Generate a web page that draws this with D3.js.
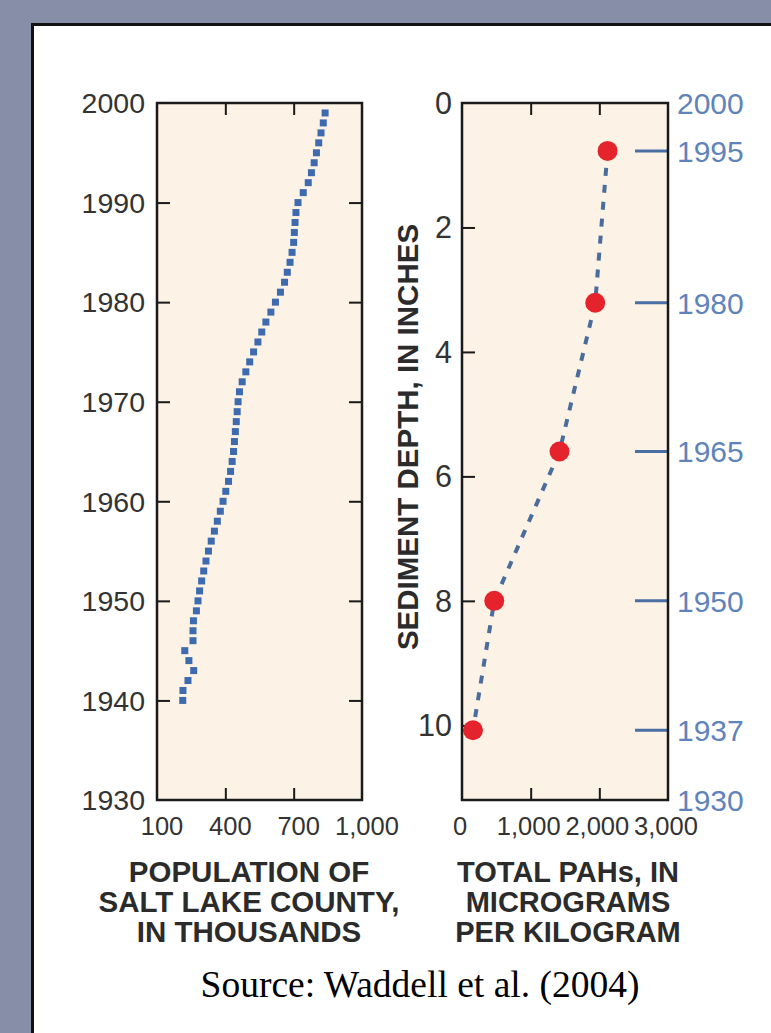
<!DOCTYPE html>
<html>
<head>
<meta charset="utf-8">
<script src="https://cdn.jsdelivr.net/npm/d3@7"></script>
<style>
  html, body { margin: 0; padding: 0; background: #878ea7; }
  svg { display: block; }
</style>
</head>
<body>
<svg id="chart" width="771" height="1033"></svg>
<script>
// ---------------- DATA ----------------
const popYears = [1940,1941,1942,1943,1944,1945,1946,1947,1948,1949,
                  1950,1951,1952,1953,1954,1955,1956,1957,1958,1959,
                  1960,1961,1962,1963,1964,1965,1966,1967,1968,1969,
                  1970,1971,1972,1973,1974,1975,1976,1977,1978,1979,
                  1980,1981,1982,1983,1984,1985,1986,1987,1988,1989,
                  1990,1991,1992,1993,1994,1995,1996,1997,1998,1999];
const popValues = [213,214,236,261,240,222,258,258,260,273,
                   280,287,296,305,315,326,338,352,365,378,
                   390,402,414,423,430,436,440,444,448,452,
                   456,462,474,490,507,524,543,560,578,600,
                   620,642,660,672,684,693,700,703,706,710,
                   719,742,764,778,790,800,810,820,830,838];
const popYearTicks = [1930,1940,1950,1960,1970,1980,1990,2000];
const popXTicks = [100,400,700,1000];
const popXTickLabels = ["100","400","700","1,000"];

const pahDepth = [0.77, 3.21, 5.6, 8.0, 10.08];
const pahValues = [2120, 1940, 1420, 470, 160];
const depthTicks = [0,2,4,6,8,10];
const pahXTicks = [0,1000,2000,3000];
const pahXTickLabels = ["0","1,000","2,000","3,000"];
const dateYears = [2000, 1995, 1980, 1965, 1950, 1937, 1930];
const dateDepths = [0, 0.77, 3.21, 5.6, 8.0, 10.08, 11.2];

const leftTitle = ["POPULATION OF", "SALT LAKE COUNTY,", "IN THOUSANDS"];
const rightTitle = ["TOTAL PAHs, IN", "MICROGRAMS", "PER KILOGRAM"];
const yTitle = "SEDIMENT DEPTH, IN INCHES";
const sourceText = "Source: Waddell et al. (2004)";

// ---------------- LAYOUT ----------------
const svg = d3.select("#chart");
const yTop = 103, yBot = 800;
const L = {x0: 157, x1: 362};
const R = {x0: 462, x1: 668};
const tickFont = "'Liberation Sans', Arial, Helvetica, sans-serif";
const labelColor = "#333";
const titleColor = "#2b2b2b";
const frameColor = "#1a1a1a";
const bg = "#fcf2e5";

// white panel
svg.append("rect").attr("x", 32.5).attr("y", 24.5).attr("width", 800).attr("height", 1100)
  .attr("fill", "#fff").attr("stroke", "#111").attr("stroke-width", 3);

// ---------------- LEFT PANEL ----------------
const xPop = d3.scaleLinear().domain([100, 1000]).range([L.x0, L.x1]);
const yYear = d3.scaleLinear().domain([1930, 2000]).range([yBot, yTop]);

const gl = svg.append("g");
gl.append("rect").attr("x", L.x0).attr("y", yTop).attr("width", L.x1 - L.x0).attr("height", yBot - yTop)
  .attr("fill", bg);

function styleAxis(g, color) {
  g.select(".domain").remove();
  g.selectAll(".tick line").attr("stroke", color || frameColor).attr("stroke-width", 2);
  g.selectAll("text").remove();
}
const innerYears = popYearTicks.filter(d => d > 1930 && d < 2000);
gl.append("g").attr("transform", `translate(${L.x0},0)`)
  .call(d3.axisRight(yYear).tickValues(innerYears).tickSize(13)).call(styleAxis);
gl.append("g").attr("transform", `translate(${L.x1},0)`)
  .call(d3.axisLeft(yYear).tickValues(innerYears).tickSize(13)).call(styleAxis);
const innerPopX = popXTicks.slice(1, -1);
gl.append("g").attr("transform", `translate(0,${yTop})`)
  .call(d3.axisBottom(xPop).tickValues(innerPopX).tickSize(12)).call(styleAxis);
gl.append("g").attr("transform", `translate(0,${yBot})`)
  .call(d3.axisTop(xPop).tickValues(innerPopX).tickSize(12)).call(styleAxis);

// y tick labels
gl.selectAll("text.yl").data(popYearTicks).join("text")
  .attr("x", L.x0 - 12).attr("y", d => yYear(d)).attr("dy", "0.36em")
  .attr("text-anchor", "end").attr("font-family", tickFont).attr("font-size", 28.5)
  .attr("fill", labelColor).text(d => d);
// x tick labels
gl.selectAll("text.xl").data(popXTicks).join("text")
  .attr("x", d => xPop(d) + 5).attr("y", yBot + 35)
  .attr("text-anchor", "middle").attr("font-family", tickFont).attr("font-size", 25.5)
  .attr("fill", labelColor).text((d, i) => popXTickLabels[i]);

// squares
gl.selectAll("rect.pt").data(popYears).join("rect")
  .attr("x", (d, i) => xPop(popValues[i]) - 3.5).attr("y", d => yYear(d) - 3.5)
  .attr("width", 7).attr("height", 7).attr("fill", "#3e6bb0");

gl.append("rect").attr("x", L.x0).attr("y", yTop).attr("width", L.x1 - L.x0).attr("height", yBot - yTop)
  .attr("fill", "none").attr("stroke", frameColor).attr("stroke-width", 2.5);

// title
gl.append("text").attr("font-family", tickFont).attr("font-weight", "bold").attr("font-size", 29.5)
  .attr("fill", titleColor).attr("text-anchor", "middle")
  .selectAll("tspan").data(leftTitle).join("tspan")
  .attr("x", 249).attr("y", (d, i) => 882 + i * 30).text(d => d);

// ---------------- RIGHT PANEL ----------------
const xPah = d3.scaleLinear().domain([0, 3000]).range([R.x0, R.x1]);
const yDepth = d3.scaleLinear().domain([0, 11.2]).range([yTop, yBot]);

const gr = svg.append("g");
gr.append("rect").attr("x", R.x0).attr("y", yTop).attr("width", R.x1 - R.x0).attr("height", yBot - yTop)
  .attr("fill", bg);

const innerDepth = depthTicks.filter(d => d > 0);
gr.append("g").attr("transform", `translate(${R.x0},0)`)
  .call(d3.axisRight(yDepth).tickValues(innerDepth).tickSize(13)).call(styleAxis);
const innerPahX = pahXTicks.slice(1, -1);
gr.append("g").attr("transform", `translate(0,${yTop})`)
  .call(d3.axisBottom(xPah).tickValues(innerPahX).tickSize(12)).call(styleAxis);
gr.append("g").attr("transform", `translate(0,${yBot})`)
  .call(d3.axisTop(xPah).tickValues(innerPahX).tickSize(12)).call(styleAxis);

// blue date ticks (inner only)
const innerDates = dateYears.map((y, i) => ({y, d: dateDepths[i]})).slice(1, -1);
gr.selectAll("line.dt").data(innerDates).join("line")
  .attr("x1", R.x1 - 33).attr("x2", R.x1).attr("y1", d => yDepth(d.d)).attr("y2", d => yDepth(d.d))
  .attr("stroke", "#4a6fa5").attr("stroke-width", 3);

// depth labels
gr.selectAll("text.dl").data(depthTicks).join("text")
  .attr("x", R.x0 - 10).attr("y", d => yDepth(d)).attr("dy", "0.36em")
  .attr("text-anchor", "end").attr("font-family", tickFont).attr("font-size", 30.5)
  .attr("fill", labelColor).text(d => d);
// date labels
gr.selectAll("text.yl").data(dateYears).join("text")
  .attr("x", R.x1 + 9).attr("y", (d, i) => yDepth(dateDepths[i])).attr("dy", "0.36em")
  .attr("text-anchor", "start").attr("font-family", tickFont).attr("font-size", 30)
  .attr("fill", "#5f84bb").text(d => d);
// x labels
gr.selectAll("text.xl").data(pahXTicks).join("text")
  .attr("x", d => xPah(d) - 2).attr("y", yBot + 35)
  .attr("text-anchor", "middle").attr("font-family", tickFont).attr("font-size", 25.5)
  .attr("fill", labelColor).text((d, i) => pahXTickLabels[i]);

// dashed line + dots
const line = d3.line().x((d, i) => xPah(pahValues[i])).y(d => yDepth(d));
gr.append("path").datum(pahDepth).attr("d", line)
  .attr("fill", "none").attr("stroke", "#4b6d9c").attr("stroke-width", 4)
  .attr("stroke-dasharray", "8,9");
gr.selectAll("circle").data(pahDepth).join("circle")
  .attr("cx", (d, i) => xPah(pahValues[i])).attr("cy", d => yDepth(d)).attr("r", 10)
  .attr("fill", "#e5232c");

gr.append("rect").attr("x", R.x0).attr("y", yTop).attr("width", R.x1 - R.x0).attr("height", yBot - yTop)
  .attr("fill", "none").attr("stroke", frameColor).attr("stroke-width", 2.5);

// titles
gr.append("text").attr("font-family", tickFont).attr("font-weight", "bold").attr("font-size", 29)
  .attr("fill", titleColor).attr("text-anchor", "middle")
  .selectAll("tspan").data(rightTitle).join("tspan")
  .attr("x", 568).attr("y", (d, i) => 882 + i * 30).text(d => d);
gr.append("text").attr("font-family", tickFont).attr("font-weight", "bold").attr("font-size", 29.5)
  .attr("fill", titleColor).attr("text-anchor", "middle")
  .attr("transform", "translate(418,437) rotate(-90)").text(yTitle);

// source
svg.append("text").attr("x", 420).attr("y", 997).attr("text-anchor", "middle")
  .attr("font-family", "'Liberation Serif', 'Times New Roman', serif").attr("font-size", 37.5)
  .attr("fill", "#000").text(sourceText);
</script>
</body>
</html>
